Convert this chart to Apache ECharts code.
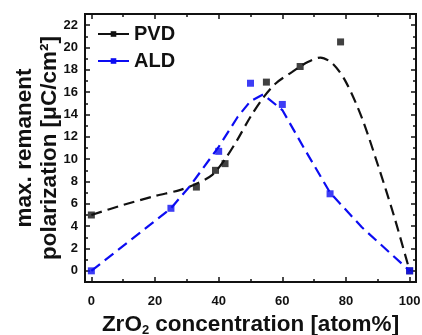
<!DOCTYPE html>
<html>
<head>
<meta charset="utf-8">
<script src="https://cdn.jsdelivr.net/npm/echarts@6/dist/echarts.min.js"></script>
<style>
  html, body { margin: 0; padding: 0; background: #fff; }
  #chart { width: 422px; height: 335px; }
</style>
</head>
<body>
<div id="chart"></div>
<script>
// Measured remanent polarization (µC/cm²) vs ZrO2 content (atom%)
const pvdX = [0, 33, 39, 42, 55, 65.6, 78.3, 100];
const pvdY = [5.0, 7.5, 9.0, 9.6, 16.9, 18.3, 20.5, 0];
const aldX = [0, 25, 40, 50, 60, 75, 100];
const aldY = [0, 5.6, 10.7, 16.8, 14.9, 6.9, 0];

// Dashed guide curves
const pvdFitX = [0, 10, 20, 28, 33, 38, 42, 46, 50, 54, 58, 63, 68, 72, 76, 80, 85, 90, 95, 100];
const pvdFitY = [5.0, 5.9, 6.7, 7.25, 7.8, 8.6, 10.0, 11.8, 13.8, 15.5, 16.8, 17.8, 18.7, 19.1, 18.5, 16.9, 13.7, 9.5, 5.0, 0];
const aldFitX = [0, 25, 31, 40, 46, 50, 54, 60, 67, 75, 85, 100];
const aldFitY = [0, 5.6, 7.6, 11.1, 13.8, 15.2, 15.8, 14.4, 10.9, 7.0, 3.9, 0];

// Tick positions
const xMajor = [0, 20, 40, 60, 80, 100];
const xMinor = [10, 30, 50, 70, 90];
const yMajor = [0, 2, 4, 6, 8, 10, 12, 14, 16, 18, 20, 22];
const yMinor = [1, 3, 5, 7, 9, 11, 13, 15, 17, 19, 21];

const FONT = '"Liberation Sans", Arial, sans-serif';
const INK = '#111';
const BLUE = '#0c0cf2';
const TITLE_SIZE = 22.5;

const pairs = (xs, ys) => xs.map((x, i) => [x, ys[i]]);

function axisDef(kind, pos, ticks, len, withLabels) {
  const range = kind === 'x' ? { min: -2, max: 102 } : { min: -1, max: 23 };
  return Object.assign({
    type: 'value',
    position: pos,
    gridIndex: 0,
    axisLine: { show: true, onZero: false, lineStyle: { color: INK, width: 2 } },
    axisTick: { show: true, inside: true, length: len, customValues: ticks,
                lineStyle: { color: INK, width: 1.5 } },
    axisLabel: withLabels ? {
      show: true, customValues: ticks, margin: kind === 'x' ? 13 : 7,
      fontSize: 13, fontWeight: 'bold', color: INK, fontFamily: FONT
    } : { show: false },
    splitLine: { show: false }
  }, range);
}

const xMain = axisDef('x', 'bottom', xMajor, 5, true);
xMain.name = '{a|ZrO}{b|2}{a| concentration [atom%]}';
xMain.nameLocation = 'middle';
xMain.nameGap = 30;
xMain.nameTextStyle = {
  color: INK, fontFamily: FONT, fontWeight: 'bold', fontSize: TITLE_SIZE,
  rich: {
    a: { fontSize: TITLE_SIZE, fontWeight: 'bold', fontFamily: FONT, color: INK, lineHeight: 25 },
    b: { fontSize: 13, fontWeight: 'bold', fontFamily: FONT, color: INK, lineHeight: 13,
         verticalAlign: 'bottom' }
  }
};

const yMain = axisDef('y', 'left', yMajor, 5, true);
yMain.name = 'max. remanent\npolarization [μC/cm²]';
yMain.nameLocation = 'middle';
yMain.nameRotate = 90;
yMain.nameGap = 23;
yMain.nameMoveOverlap = false;
yMain.nameTextStyle = {
  color: INK, fontFamily: FONT, fontWeight: 'bold', fontSize: TITLE_SIZE, lineHeight: 25, align: 'center'
};

const option = {
  animation: false,
  backgroundColor: '#fff',
  grid: { left: 85, right: 6, top: 14, bottom: 53, containLabel: false, outerBoundsMode: 'none' },
  legend: {
    orient: 'vertical',
    left: 92,
    top: 19,
    itemWidth: 31,
    itemHeight: 7,
    itemGap: 7,
    data: ['PVD', 'ALD'],
    textStyle: { fontSize: 20, fontWeight: 'bold', color: INK, fontFamily: FONT },
    lineStyle: { type: 'solid', width: 2 }
  },
  xAxis: [
    xMain,
    axisDef('x', 'bottom', xMinor, 3, false),
    axisDef('x', 'top', xMajor, 5, false),
    axisDef('x', 'top', xMinor, 3, false)
  ],
  yAxis: [
    yMain,
    axisDef('y', 'left', yMinor, 3, false),
    axisDef('y', 'right', yMajor, 5, false),
    axisDef('y', 'right', yMinor, 3, false)
  ],
  series: [
    {
      name: 'PVD', type: 'line', data: pairs(pvdFitX, pvdFitY),
      smooth: 0.3, symbol: 'rect', symbolSize: 7, showSymbol: false,
      itemStyle: { color: INK },
      lineStyle: { color: INK, width: 2.2, type: [11, 6] }
    },
    {
      name: 'ALD', type: 'line', data: pairs(aldFitX, aldFitY),
      smooth: false, symbol: 'rect', symbolSize: 7, showSymbol: false,
      itemStyle: { color: BLUE },
      lineStyle: { color: BLUE, width: 2.2, type: [11, 6] }
    },
    {
      name: 'PVD', type: 'scatter', data: pairs(pvdX, pvdY),
      symbol: 'rect', symbolSize: 7, itemStyle: { color: INK }
    },
    {
      name: 'ALD', type: 'scatter', data: pairs(aldX, aldY),
      symbol: 'rect', symbolSize: 7, itemStyle: { color: BLUE }
    }
  ]
};

const chart = echarts.init(document.getElementById('chart'), null, { renderer: 'canvas' });
chart.setOption(option);
</script>
</body>
</html>
